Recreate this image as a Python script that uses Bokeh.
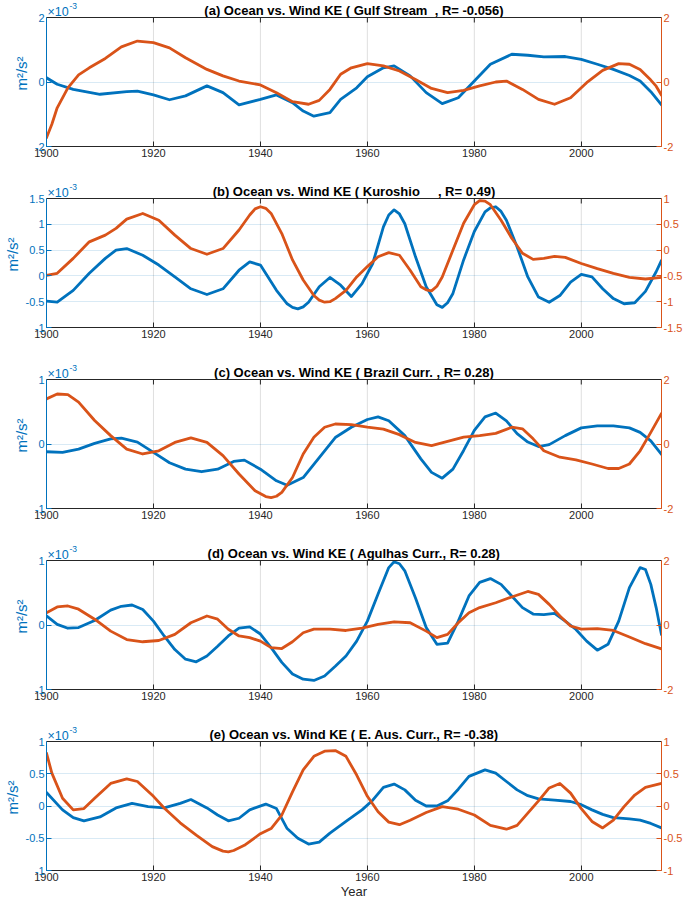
from bokeh.plotting import figure
from bokeh.models import Range1d, LinearAxis, FixedTicker, Span
from bokeh.core.properties import value
from bokeh.layouts import column
from bokeh.embed import file_html
from bokeh.resources import INLINE

# ---------------- data: (year, value) pairs ----------------
# ocean KE in units of 1e-3 m^2/s^2 (left axis); wind KE (right axis)
NB = "\u00a0"
titles = [
    "(a) Ocean vs. Wind KE ( Gulf Stream" + NB + " , R= -0.056)",
    "(b) Ocean vs. Wind KE ( Kuroshio" + NB * 4 + " , R= 0.49)",
    "(c) Ocean vs. Wind KE ( Brazil Curr. , R= 0.28)",
    "(d) Ocean vs. Wind KE ( Agulhas Curr., R= 0.28)",
    "(e) Ocean vs. Wind KE ( E. Aus. Curr., R= -0.38)",
]
x_ticks = [1900, 1920, 1940, 1960, 1980, 2000]
x_span = (1900, 2015)

# (a) Gulf Stream
ocean_a = [(1900, 0.13), (1902, -0.07), (1905, -0.23), (1910, -0.38), (1915, -0.30), (1917, -0.28),
           (1920, -0.40), (1923, -0.55), (1926, -0.43), (1930, -0.12), (1933, -0.33), (1936, -0.71),
           (1940, -0.54), (1943, -0.40), (1946, -0.64), (1948, -0.90), (1950, -1.06), (1953, -0.95),
           (1955, -0.54), (1958, -0.18), (1960, 0.16), (1963, 0.44), (1965, 0.50), (1968, 0.19),
           (1971, -0.33), (1974, -0.67), (1977, -0.49), (1980, 0.03), (1983, 0.55), (1987, 0.86),
           (1990, 0.83), (1993, 0.78), (1997, 0.79), (2000, 0.70), (2003, 0.55), (2006, 0.39),
           (2009, 0.20), (2011, 0.03), (2013, -0.30), (2015, -0.71)]
wind_a = [(1900, -1.73), (1901, -1.31), (1902, -0.80), (1904, -0.18), (1906, 0.22), (1908, 0.44),
          (1911, 0.73), (1914, 1.09), (1917, 1.27), (1920, 1.22), (1923, 1.06), (1926, 0.75),
          (1930, 0.39), (1933, 0.19), (1936, 0.03), (1940, -0.09), (1943, -0.33), (1946, -0.61),
          (1949, -0.69), (1951, -0.57), (1953, -0.23), (1955, 0.24), (1957, 0.44), (1960, 0.57),
          (1963, 0.50), (1966, 0.34), (1969, 0.08), (1972, -0.20), (1975, -0.33), (1978, -0.26),
          (1981, -0.12), (1984, 0.00), (1986, 0.03), (1989, -0.23), (1992, -0.54), (1995, -0.69),
          (1998, -0.49), (2001, -0.02), (2004, 0.36), (2007, 0.57), (2009, 0.55), (2011, 0.39),
          (2013, 0.06), (2014, -0.13), (2015, -0.41)]

# (b) Kuroshio
ocean_b = [(1900, -0.49), (1902, -0.51), (1905, -0.28), (1908, 0.05), (1911, 0.34), (1913, 0.50),
           (1915, 0.53), (1918, 0.40), (1921, 0.21), (1924, -0.02), (1927, -0.25), (1930, -0.36),
           (1933, -0.25), (1936, 0.11), (1938, 0.27), (1940, 0.21), (1943, -0.28), (1945, -0.54),
           (1946, -0.61), (1947, -0.64), (1948, -0.60), (1949, -0.51), (1951, -0.21), (1953, -0.03),
           (1955, -0.18), (1957, -0.40), (1959, -0.15), (1961, 0.24), (1963, 0.95), (1964, 1.18),
           (1965, 1.28), (1966, 1.20), (1967, 1.01), (1969, 0.37), (1971, -0.21), (1973, -0.56),
           (1974, -0.61), (1975, -0.52), (1976, -0.34), (1978, 0.31), (1980, 0.86), (1982, 1.24),
           (1983, 1.32), (1984, 1.34), (1985, 1.25), (1986, 1.08), (1988, 0.56), (1990, -0.02),
           (1992, -0.41), (1994, -0.51), (1996, -0.38), (1998, -0.12), (2000, 0.03), (2002, -0.02),
           (2004, -0.25), (2006, -0.44), (2008, -0.54), (2010, -0.52), (2012, -0.30), (2014, 0.08),
           (2015, 0.30)]
wind_b = [(1900, -0.49), (1902, -0.45), (1905, -0.16), (1908, 0.16), (1911, 0.29), (1913, 0.42),
          (1915, 0.60), (1918, 0.71), (1921, 0.58), (1924, 0.29), (1927, 0.03), (1930, -0.08),
          (1933, 0.03), (1936, 0.39), (1938, 0.68), (1939, 0.80), (1940, 0.84), (1941, 0.81),
          (1942, 0.71), (1944, 0.32), (1946, -0.19), (1948, -0.58), (1950, -0.88), (1951, -0.97),
          (1952, -1.01), (1953, -1.00), (1954, -0.94), (1956, -0.78), (1958, -0.52), (1960, -0.32),
          (1962, -0.13), (1964, -0.05), (1966, -0.10), (1968, -0.39), (1970, -0.71), (1971, -0.77),
          (1972, -0.79), (1973, -0.70), (1974, -0.52), (1976, 0.00), (1978, 0.52), (1980, 0.88),
          (1981, 0.96), (1982, 0.95), (1983, 0.88), (1985, 0.58), (1987, 0.23), (1989, -0.06),
          (1991, -0.18), (1993, -0.16), (1995, -0.12), (1997, -0.14), (2000, -0.26), (2003, -0.36),
          (2006, -0.45), (2009, -0.53), (2012, -0.56), (2015, -0.53)]

# (c) Brazil Current
ocean_c = [(1900, -0.12), (1903, -0.13), (1906, -0.08), (1909, 0.01), (1912, 0.08), (1914, 0.09),
           (1917, 0.03), (1920, -0.13), (1923, -0.29), (1926, -0.39), (1929, -0.43), (1932, -0.39),
           (1935, -0.27), (1937, -0.25), (1940, -0.39), (1943, -0.57), (1945, -0.64), (1948, -0.52),
           (1951, -0.21), (1954, 0.10), (1957, 0.26), (1960, 0.38), (1962, 0.42), (1964, 0.36),
           (1967, 0.13), (1970, -0.23), (1972, -0.44), (1974, -0.53), (1976, -0.39), (1978, -0.10),
           (1980, 0.21), (1982, 0.42), (1984, 0.48), (1986, 0.36), (1988, 0.16), (1990, 0.03),
           (1992, -0.04), (1994, -0.01), (1997, 0.13), (2000, 0.25), (2003, 0.28), (2006, 0.28),
           (2009, 0.25), (2011, 0.18), (2013, 0.05), (2015, -0.16)]
wind_c = [(1900, 1.40), (1902, 1.55), (1904, 1.53), (1906, 1.30), (1909, 0.73), (1912, 0.26),
          (1915, -0.16), (1918, -0.31), (1921, -0.21), (1924, 0.05), (1927, 0.19), (1930, 0.05),
          (1933, -0.36), (1936, -0.93), (1939, -1.45), (1941, -1.63), (1942, -1.66), (1943, -1.62),
          (1944, -1.50), (1946, -1.04), (1948, -0.31), (1950, 0.21), (1952, 0.52), (1954, 0.62),
          (1957, 0.60), (1960, 0.52), (1963, 0.46), (1966, 0.29), (1969, 0.05), (1972, -0.05),
          (1975, 0.08), (1978, 0.21), (1981, 0.26), (1984, 0.33), (1987, 0.52), (1989, 0.47),
          (1991, 0.16), (1993, -0.21), (1996, -0.41), (1999, -0.49), (2002, -0.62), (2005, -0.76),
          (2007, -0.76), (2009, -0.62), (2011, -0.21), (2013, 0.36), (2015, 0.95)]

# (d) Agulhas Current
ocean_d = [(1900, 0.14), (1902, 0.01), (1904, -0.05), (1906, -0.04), (1909, 0.07), (1912, 0.23),
           (1914, 0.29), (1916, 0.31), (1918, 0.24), (1920, 0.06), (1922, -0.17), (1924, -0.38),
           (1926, -0.53), (1928, -0.57), (1930, -0.48), (1932, -0.33), (1934, -0.17), (1936, -0.05),
           (1938, -0.03), (1940, -0.14), (1942, -0.35), (1944, -0.58), (1946, -0.76), (1948, -0.84),
           (1950, -0.86), (1952, -0.79), (1954, -0.64), (1956, -0.48), (1958, -0.25), (1960, 0.06),
           (1962, 0.48), (1964, 0.89), (1965, 0.98), (1966, 0.95), (1967, 0.84), (1969, 0.42),
           (1971, -0.04), (1973, -0.30), (1975, -0.28), (1977, 0.06), (1979, 0.45), (1981, 0.66),
           (1983, 0.72), (1985, 0.63), (1987, 0.45), (1989, 0.27), (1991, 0.17), (1993, 0.16),
           (1995, 0.18), (1997, 0.06), (1999, -0.07), (2001, -0.25), (2003, -0.39), (2005, -0.30),
           (2007, 0.06), (2009, 0.58), (2011, 0.89), (2012, 0.86), (2013, 0.63), (2014, 0.27),
           (2015, -0.15)]
wind_d = [(1900, 0.38), (1902, 0.56), (1904, 0.59), (1906, 0.49), (1909, 0.18), (1912, -0.19),
          (1915, -0.45), (1918, -0.52), (1921, -0.48), (1924, -0.29), (1927, 0.07), (1930, 0.28),
          (1932, 0.18), (1934, -0.13), (1936, -0.34), (1938, -0.39), (1940, -0.50), (1942, -0.70),
          (1944, -0.73), (1946, -0.52), (1948, -0.24), (1950, -0.13), (1953, -0.13), (1956, -0.17),
          (1959, -0.10), (1962, 0.02), (1965, 0.10), (1968, 0.07), (1971, -0.19), (1973, -0.39),
          (1975, -0.29), (1977, 0.07), (1979, 0.38), (1981, 0.54), (1984, 0.69), (1987, 0.87),
          (1990, 1.04), (1992, 0.95), (1994, 0.64), (1996, 0.28), (1998, -0.03), (2000, -0.13),
          (2003, -0.11), (2006, -0.17), (2009, -0.37), (2012, -0.58), (2015, -0.74)]

# (e) East Australian Current
ocean_e = [(1900, 0.21), (1903, -0.06), (1905, -0.18), (1907, -0.23), (1910, -0.17), (1913, -0.03),
           (1916, 0.04), (1919, -0.01), (1922, -0.03), (1925, 0.04), (1927, 0.10), (1930, -0.03),
           (1932, -0.14), (1934, -0.23), (1936, -0.19), (1938, -0.06), (1941, 0.03), (1943, -0.04),
           (1945, -0.35), (1947, -0.50), (1949, -0.59), (1951, -0.56), (1953, -0.42), (1956, -0.24),
           (1959, -0.06), (1961, 0.09), (1963, 0.29), (1965, 0.34), (1967, 0.25), (1969, 0.09),
           (1971, 0.00), (1973, 0.00), (1975, 0.08), (1977, 0.26), (1979, 0.46), (1982, 0.56),
           (1984, 0.51), (1986, 0.38), (1988, 0.25), (1990, 0.16), (1992, 0.11), (1995, 0.09),
           (1998, 0.07), (2000, 0.02), (2002, -0.06), (2004, -0.13), (2006, -0.18), (2009, -0.20),
           (2011, -0.22), (2013, -0.27), (2015, -0.34)]
wind_e = [(1900, 0.82), (1901, 0.51), (1903, 0.12), (1905, -0.06), (1907, -0.04), (1909, 0.12),
          (1912, 0.35), (1915, 0.42), (1917, 0.38), (1920, 0.15), (1922, -0.03), (1925, -0.26),
          (1928, -0.45), (1931, -0.63), (1933, -0.70), (1934, -0.71), (1935, -0.69), (1937, -0.61),
          (1940, -0.43), (1942, -0.35), (1944, -0.14), (1946, 0.22), (1948, 0.56), (1950, 0.77),
          (1952, 0.85), (1954, 0.86), (1956, 0.77), (1958, 0.48), (1960, 0.15), (1962, -0.09),
          (1964, -0.25), (1966, -0.29), (1968, -0.22), (1971, -0.10), (1974, -0.01), (1977, -0.05),
          (1980, -0.14), (1983, -0.30), (1986, -0.36), (1988, -0.30), (1990, -0.11), (1992, 0.08),
          (1994, 0.28), (1996, 0.35), (1998, 0.20), (2000, -0.04), (2002, -0.24), (2004, -0.34),
          (2006, -0.22), (2008, -0.01), (2010, 0.17), (2012, 0.29), (2015, 0.35)]

# axis ranges and ticks (left: ocean x1e-3, right: wind)
left_ranges = [(-2, 2), (-1, 1.5), (-1, 1), (-1, 1), (-1, 1)]
left_ticks = [[-2, 0, 2], [-1, -0.5, 0, 0.5, 1, 1.5], [-1, 0, 1], [-1, 0, 1], [-1, -0.5, 0, 0.5, 1]]
right_ranges = [(-2, 2), (-1.5, 1), (-2, 2), (-2, 2), (-1, 1)]
right_ticks = [[-2, 0, 2], [-1.5, -1, -0.5, 0, 0.5, 1], [-2, 0, 2], [-2, 0, 2], [-1, -0.5, 0, 0.5, 1]]

ocean_series = [ocean_a, ocean_b, ocean_c, ocean_d, ocean_e]
wind_series = [wind_a, wind_b, wind_c, wind_d, wind_e]

# ---------------- styling / layout ----------------
BLUE = "#0072BD"
ORANGE = "#D95319"
DARK = "#262626"
FONT = "Liberation Sans"
W = 685
HEAD, BOX = 17, 129          # title strip and plot box heights (px), both inside the frame
LEFT, RIGHT = 44, 24


def fmt(v):
    return f"{v:g}"


def px(rng, n):
    # data length of n pixels on an axis whose box range is rng
    return (rng[1] - rng[0]) * n / BOX


def extended(rng):
    # range whose lower BOX px hold rng and upper HEAD px hold the title strip
    return Range1d(rng[0], rng[1] + px(rng, HEAD))


def style_axis(ax, color, ticks, fs="11px"):
    ax.ticker = FixedTicker(ticks=ticks)
    ax.major_label_overrides = {t: fmt(t) for t in ticks}
    ax.axis_line_color = color
    ax.major_tick_line_color = color
    ax.minor_tick_line_color = None
    ax.major_tick_in = 5
    ax.major_tick_out = 0
    ax.major_label_text_color = color
    ax.major_label_text_font = FONT
    ax.major_label_text_font_size = fs
    ax.major_label_standoff = 2


figs = []
for i in range(5):
    last = i == 4
    bottom = 31 if last else 35
    lr, rr = left_ranges[i], right_ranges[i]
    lo, hi = lr
    p = figure(width=W, height=HEAD + BOX + bottom,
               x_range=Range1d(*x_span), y_range=extended(lr),
               title=None, output_backend="svg", toolbar_location=None,
               min_border_left=LEFT, min_border_right=RIGHT,
               min_border_top=0, min_border_bottom=bottom)
    p.extra_y_ranges = {"right": extended(rr)}
    p.outline_line_color = None
    p.background_fill_color = "white"
    p.xgrid.visible = False

    # bottom axis
    xa = p.xaxis[0]
    style_axis(xa, DARK, x_ticks)
    if last:
        xa.axis_label = "Year"
        xa.axis_label_text_font = FONT
        xa.axis_label_text_font_size = "13px"
        xa.axis_label_text_font_style = "normal"
        xa.axis_label_text_color = DARK
        xa.axis_label_standoff = 0

    # left axis (blue)
    ya = p.yaxis[0]
    style_axis(ya, BLUE, left_ticks[i])
    ya.bounds = lr
    ya.axis_label = "m²/s²"
    ya.axis_label_text_font = FONT
    ya.axis_label_text_font_size = "15px"
    ya.axis_label_text_font_style = "normal"
    ya.axis_label_text_color = BLUE
    ya.axis_label_standoff = 2

    # right axis (orange)
    ra = LinearAxis(y_range_name="right")
    style_axis(ra, ORANGE, right_ticks[i])
    ra.bounds = rr
    p.add_layout(ra, "right")

    # horizontal grid from left ticks
    p.ygrid.ticker = FixedTicker(ticks=left_ticks[i])
    p.ygrid.grid_line_color = BLUE
    p.ygrid.grid_line_alpha = 0.15

    # vertical grid lines and top-edge ticks, limited to the plot box
    inner = x_ticks[1:]
    p.segment(x0=inner, y0=[lo] * len(inner), x1=inner, y1=[hi] * len(inner),
              line_color=DARK, line_alpha=0.15, line_width=1)
    p.segment(x0=inner, y0=[hi] * len(inner), x1=inner, y1=[hi - px(lr, 5)] * len(inner),
              line_color=DARK, line_width=1)
    # top edge of the box
    p.add_layout(Span(location=hi, dimension="width", line_color=DARK, line_width=1))

    # series
    oy, ov = zip(*ocean_series[i])
    wy, wv = zip(*wind_series[i])
    p.line(list(oy), list(ov), line_color=BLUE, line_width=2.8,
           line_join="round", line_cap="round")
    p.line(list(wy), list(wv), line_color=ORANGE, line_width=2.8,
           line_join="round", line_cap="round", y_range_name="right")

    # title and the x10^-3 exponent in the strip above the box
    p.text(x=[(x_span[0] + x_span[1]) / 2], y=[hi + px(lr, 7)], text=[titles[i]],
           text_align="center", text_baseline="alphabetic", text_font=value(FONT),
           text_font_size="13px", text_font_style="bold", text_color="#000000")
    p.text(x=[x_span[0]], y=[hi + px(lr, 6)], text=["×10"], x_offset=1,
           text_align="left", text_baseline="alphabetic", text_font=value(FONT),
           text_font_size="12.5px", text_color=BLUE)
    p.text(x=[x_span[0]], y=[hi + px(lr, 12)], text=["-3"], x_offset=23,
           text_align="left", text_baseline="alphabetic", text_font=value(FONT),
           text_font_size="8.5px", text_color=BLUE)
    figs.append(p)

layout = column(*figs, spacing=0)
open("out.html", "w").write(file_html(layout, INLINE))
